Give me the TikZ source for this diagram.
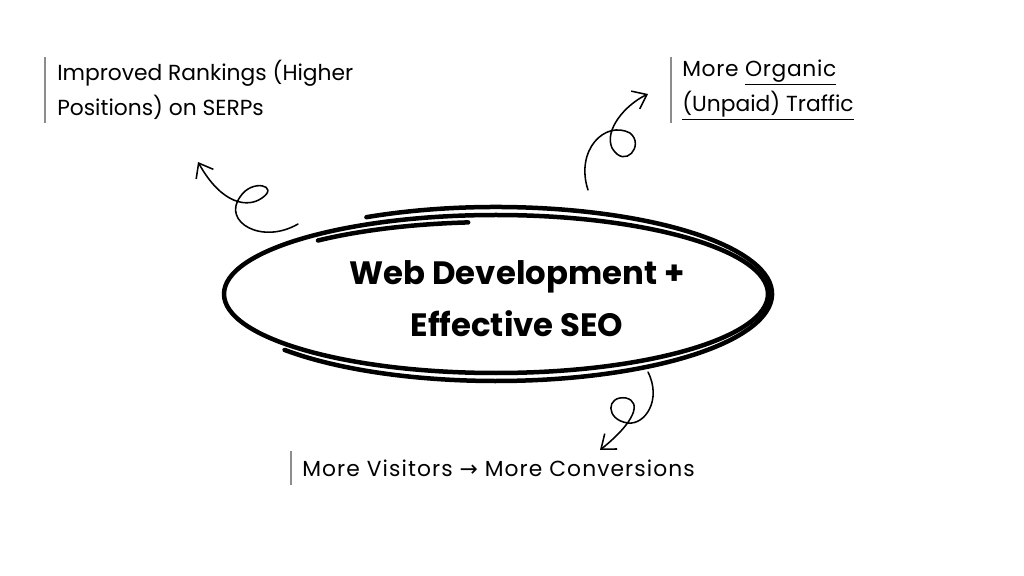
\documentclass[tikz,border=0pt]{standalone}
\usepackage{fontspec}
\setmainfont{Poppins}
\newfontfamily\symfont{DejaVu Sans}
\usetikzlibrary{arrows.meta}

\begin{document}
\begin{tikzpicture}[x=0.025cm,y=-0.025cm,
        note/.style={anchor=west,align=left,inner sep=0pt,font=\fontsize{15.5}{25}\selectfont},
        bar/.style={draw=black!45,line width=0.8pt},
        ring/.style={line width=3.2pt,line cap=round},
        swirl/.style={line width=1.1pt,line cap=round,-{Straight Barb[length=9pt,width=14pt]}},
        title/.style={align=center,inner sep=0pt,font=\fontsize{23}{37}\selectfont\bfseries}]
    \useasboundingbox (0,0) rectangle (1024,576);
    % the hand drawn ring
    \coordinate (c) at (496,294);
    \draw[ring] (c) ellipse [x radius=272, y radius=79];
    \draw[ring] ([shift={(242:276 and 87)}]c) arc [start angle=242, end angle=500, x radius=276, y radius=87];
    \draw[ring] ([shift={(264:266 and 72)}]c) arc [start angle=264, end angle=228, x radius=266, y radius=72];
    \node[title] (seo) at (517,299) {Web Development +\\Effective SEO};
    % the three notes
    \node[note] (rank) at (57,90) {Improved Rankings (Higher\\Positions) on SERPs};
    \node[note] (traffic) at (682,90) {\addfontfeatures{LetterSpace=3}More \underline{Organic}\\\underline{(Unpaid) Traffic}};
    \node[note] (conv) at (302,468) {\addfontfeatures{LetterSpace=5}More Visitors {\symfont →} More Conversions};
    \draw[bar] ([shift={(-12,-3)}]rank.north west) -- ([shift={(-12,3)}]rank.south west);
    \draw[bar] ([shift={(-11,-3)}]traffic.north west) -- ([shift={(-11,3)}]traffic.south west);
    \draw[bar] ([shift={(-11,-8)}]conv.north west) -- ([shift={(-11,8)}]conv.south west);
    % curly arrows
    \coordinate (t1) at (298,224);
    \coordinate (h1) at (198,162);
    \coordinate (t2) at (588,190);
    \coordinate (h2) at (648,94);
    \coordinate (t3) at (648,372);
    \coordinate (h3) at (600,450);
    \draw[swirl] (t1) .. controls (262,245) and (222,222) .. (240,197)
        .. controls (252,178) and (280,186) .. (262,198)
        .. controls (248,208) and (222,205) .. (h1);
    \draw[swirl] (t2) .. controls (575,150) and (605,120) .. (630,133)
        .. controls (645,145) and (625,170) .. (612,148)
        .. controls (604,130) and (625,105) .. (h2);
    \draw[swirl] (t3) .. controls (662,400) and (645,425) .. (628,423)
        .. controls (605,420) and (606,395) .. (626,398)
        .. controls (642,402) and (635,422) .. (h3);
\end{tikzpicture}
\end{document}
